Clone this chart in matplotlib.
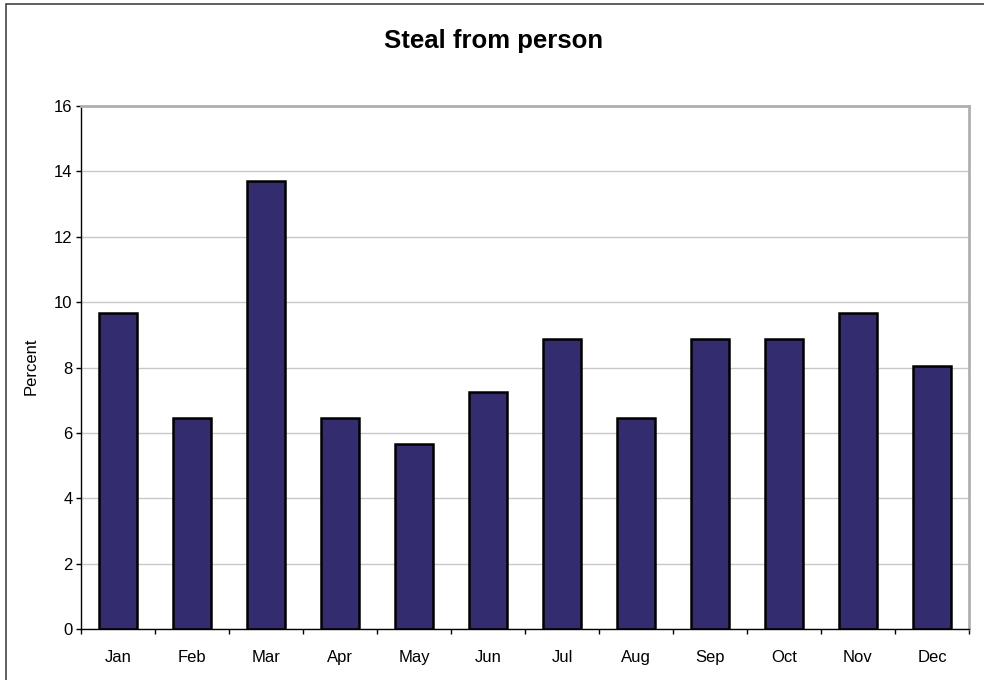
import matplotlib
matplotlib.use("Agg")
import matplotlib.pyplot as plt
from matplotlib.patches import Rectangle
import numpy as np

plt.rcParams['font.family'] = ['Liberation Sans', 'DejaVu Sans']

months = ["Jan", "Feb", "Mar", "Apr", "May", "Jun", "Jul", "Aug", "Sep", "Oct", "Nov", "Dec"]
percent = [9.68, 6.45, 13.71, 6.45, 5.65, 7.26, 8.87, 6.45, 8.87, 8.87, 9.68, 8.06]
yticks = [0, 2, 4, 6, 8, 10, 12, 14, 16]
title = "Steal from person"
ylabel = "Percent"

W, H = 984, 680
fig = plt.figure(figsize=(W / 100, H / 100), dpi=100)
fig.patch.set_facecolor("white")
# outer chart frame (right and bottom edges fall outside the image)
fig.add_artist(Rectangle((5.5 / W, -10 / H), (W + 20) / W, (H + 6.5) / H, transform=fig.transFigure,
                         fill=False, edgecolor="#444444", linewidth=1.2))

ax = fig.add_axes([81 / W, (H - 629) / H, (969 - 81) / W, (629 - 106) / H])
x = np.arange(len(months))
ax.bar(x, percent, width=0.51, color="#332C6F", edgecolor="black", linewidth=1.8, zorder=3)
ax.set_xlim(-0.5, len(months) - 0.5)
ax.set_ylim(0, 16)
ax.set_yticks(yticks)
ax.set_yticklabels([str(v) for v in yticks], fontsize=12)
ax.set_xticks(x)
ax.set_xticklabels(months, fontsize=12)
ax.tick_params(axis="x", length=0, pad=15)
ax.set_xticks(np.arange(-0.5, len(months)), minor=True)
ax.tick_params(axis="x", which="minor", length=3.6, direction="out", width=1)
ax.tick_params(axis="y", length=3.6, direction="out", width=1, pad=2.5)
ax.grid(axis="y", color="#C8C8C8", linewidth=1.0, zorder=0)
ax.set_axisbelow(True)
for s in ["top", "right"]:
    ax.spines[s].set_color("#B0B0B0")
    ax.spines[s].set_linewidth(2)
for s in ["left", "bottom"]:
    ax.spines[s].set_color("black")
    ax.spines[s].set_linewidth(1)
ax.set_ylabel(ylabel, fontsize=12)
ax.yaxis.set_label_coords((31 - 81) / (969 - 81), (629 - 366) / (629 - 106))
ax.yaxis.label.set_va("center")
fig.text(493.5 / W, 1 - 48 / H, title, ha="center", va="baseline", fontsize=18.5, fontweight="bold")

fig.savefig("out.png", dpi=100)
